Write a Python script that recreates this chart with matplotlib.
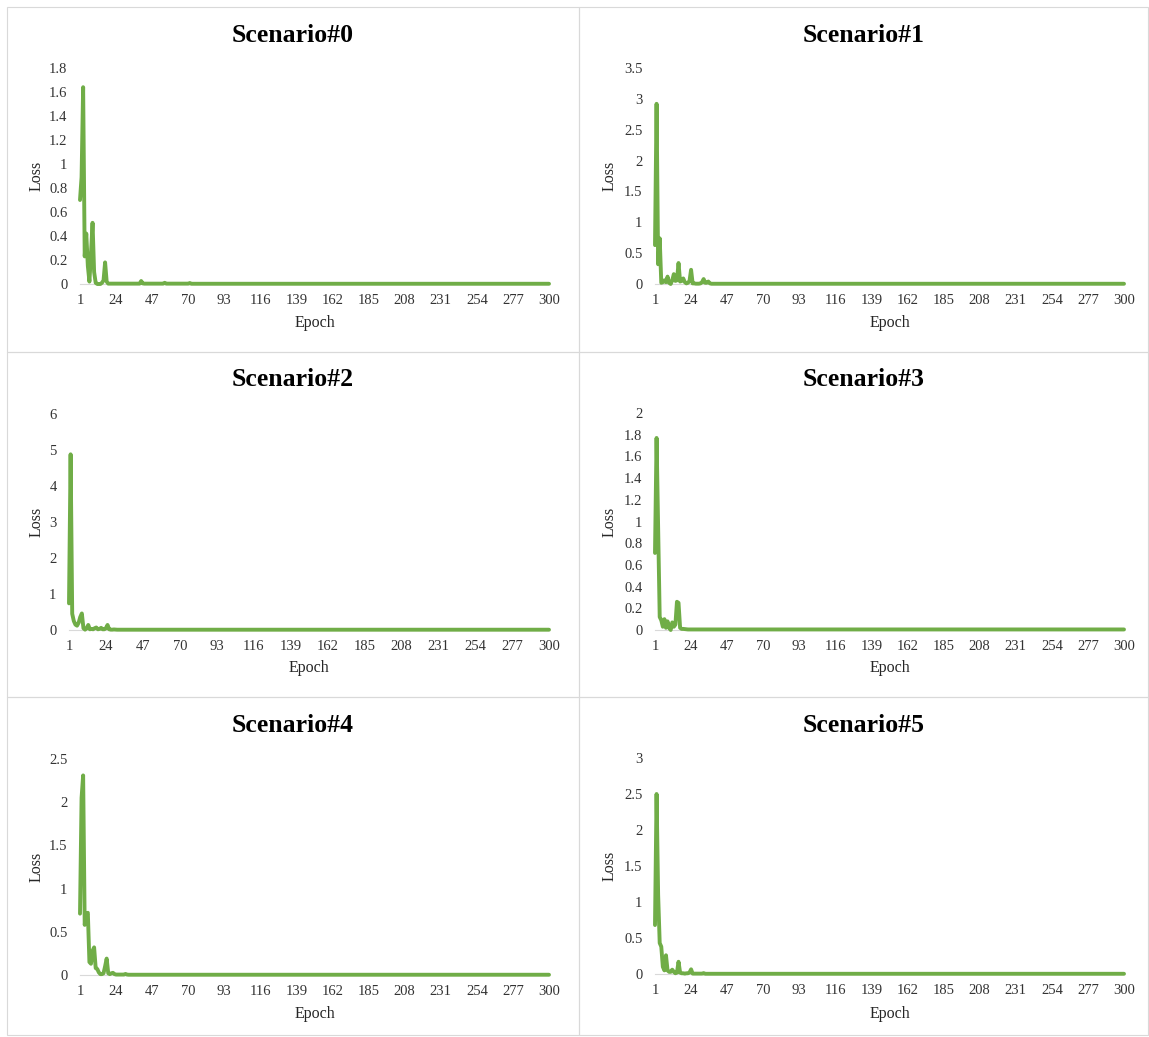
import matplotlib
matplotlib.use("Agg")
import matplotlib.pyplot as plt
from matplotlib.patches import Rectangle

W, H = 1149, 1037
plt.rcParams['font.family'] = ['Liberation Serif', 'DejaVu Serif']

epochs = list(range(1, 301))
x_ticks = list(range(1, 301, 23))

head0 = [0.70, 0.89, 1.64, 0.23, 0.42, 0.15, 0.02, 0.25, 0.51, 0.10,
         0.01, 0.0, 0.0, 0.0, 0.01, 0.03, 0.18, 0.02] + [0.003] * 21 + \
        [0.025, 0.005] + [0.003] * 13 + [0.01] + [0.003] * 15 + [0.008]
head1 = [0.63, 2.92, 0.32, 0.74, 0.02, 0.03, 0.06, 0.03, 0.12, 0.02,
         0.0, 0.06, 0.16, 0.05, 0.06, 0.34, 0.04, 0.05, 0.09, 0.03,
         0.01, 0.02, 0.05, 0.23, 0.01, 0.01, 0.005, 0.005, 0.005, 0.01,
         0.03, 0.08, 0.02, 0.02, 0.04, 0.01]
head2 = [0.74, 4.88, 0.45, 0.25, 0.15, 0.12, 0.20, 0.36, 0.46, 0.05,
         0.01, 0.05, 0.14, 0.02, 0.03, 0.02, 0.05, 0.07, 0.02, 0.03,
         0.06, 0.02, 0.02, 0.05, 0.14, 0.02, 0.01, 0.01, 0.015, 0.01]
head3 = [0.71, 1.77, 0.93, 0.12, 0.09, 0.03, 0.10, 0.02, 0.08, 0.02,
         0.0, 0.07, 0.03, 0.05, 0.26, 0.25, 0.02, 0.01, 0.01, 0.008]
head4 = [0.71, 2.05, 2.31, 0.58, 0.70, 0.72, 0.15, 0.13, 0.28, 0.32,
         0.08, 0.07, 0.03, 0.01, 0.01, 0.02, 0.10, 0.19, 0.02, 0.01,
         0.02, 0.025, 0.01, 0.005, 0.005, 0.005, 0.005, 0.005, 0.005, 0.012,
         0.005]
head5 = [0.68, 2.50, 1.10, 0.43, 0.38, 0.10, 0.05, 0.26, 0.05, 0.03,
         0.03, 0.06, 0.03, 0.01, 0.02, 0.17, 0.02, 0.01, 0.01, 0.005,
         0.01, 0.01, 0.02, 0.065, 0.005, 0.005, 0.005, 0.005, 0.005, 0.005,
         0.005, 0.012]
tail_levels = [0.002, 0.004, 0.008, 0.005, 0.003, 0.003]

heads = [head0, head1, head2, head3, head4, head5]
losses = [h + [t] * (300 - len(h)) for h, t in zip(heads, tail_levels)]

titles = ["Scenario#0", "Scenario#1", "Scenario#2",
          "Scenario#3", "Scenario#4", "Scenario#5"]
y_tops = [1.8, 3.5, 6, 2, 2.5, 3]
y_steps = [0.2, 0.5, 1, 0.2, 0.5, 0.5]

# pixel layout: (left, right, bottom, top) of each plot area
areas = [(80, 549, 284, 68), (655, 1124, 284, 68),
         (69, 549, 630, 414), (655, 1124, 630, 413),
         (80, 549, 975, 759), (655, 1124, 974, 758)]
boxes = [(7, 579, 7, 352), (579, 1148, 7, 352),
         (7, 579, 352, 697), (579, 1148, 352, 697),
         (7, 579, 697, 1035), (579, 1148, 697, 1035)]
title_y = [35, 35, 380, 380, 725, 725]
epoch_y = [323, 323, 668, 668, 1014, 1014]
loss_x = [37, 610, 37, 610, 37, 610]

fig = plt.figure(figsize=(W / 100, H / 100), dpi=100)

for i in range(6):
    bx0, bx1, by0, by1 = boxes[i]
    fig.patches.append(Rectangle((bx0 / W, 1 - by1 / H), (bx1 - bx0) / W,
                                 (by1 - by0) / H, transform=fig.transFigure,
                                 fill=False, edgecolor='#D9D9D9', linewidth=0.8))

    l, r, b, t = areas[i]
    ax = fig.add_axes([l / W, 1 - b / H, (r - l) / W, (b - t) / H])
    ax.plot(epochs, losses[i], color='#70AD47', linewidth=2.8,
            solid_joinstyle='round', solid_capstyle='round',
            clip_on=False, zorder=3)

    ax.set_xlim(1, 300)
    ax.set_ylim(0, y_tops[i])
    n = int(round(y_tops[i] / y_steps[i]))
    yt = [round(k * y_steps[i], 2) for k in range(n + 1)]
    ax.set_yticks(yt)
    ax.set_yticklabels([f"{v:g}" for v in yt])
    ax.set_xticks(x_ticks)
    ax.set_xticklabels([str(v) for v in x_ticks])
    ax.tick_params(length=0, labelsize=10.5, colors='#333333')
    ax.tick_params(axis='x', pad=7)
    ax.tick_params(axis='y', pad=9)

    for s in ['top', 'right', 'left']:
        ax.spines[s].set_visible(False)
    ax.spines['bottom'].set_color('#D9D9D9')
    ax.spines['bottom'].set_linewidth(0.8)
    ax.set_facecolor('none')

    fig.text((bx0 + bx1) / 2 / W, 1 - title_y[i] / H, titles[i],
             ha='center', va='center', fontsize=18.5, fontweight='bold')
    fig.text((l + r) / 2 / W, 1 - epoch_y[i] / H, "Epoch",
             ha='center', va='center', fontsize=11.5, color='#262626')
    fig.text(loss_x[i] / W, 1 - (b + t) / 2 / H, "Loss", rotation=90,
             ha='center', va='center', fontsize=11.5, color='#262626')

fig.savefig("out.png", dpi=100)
